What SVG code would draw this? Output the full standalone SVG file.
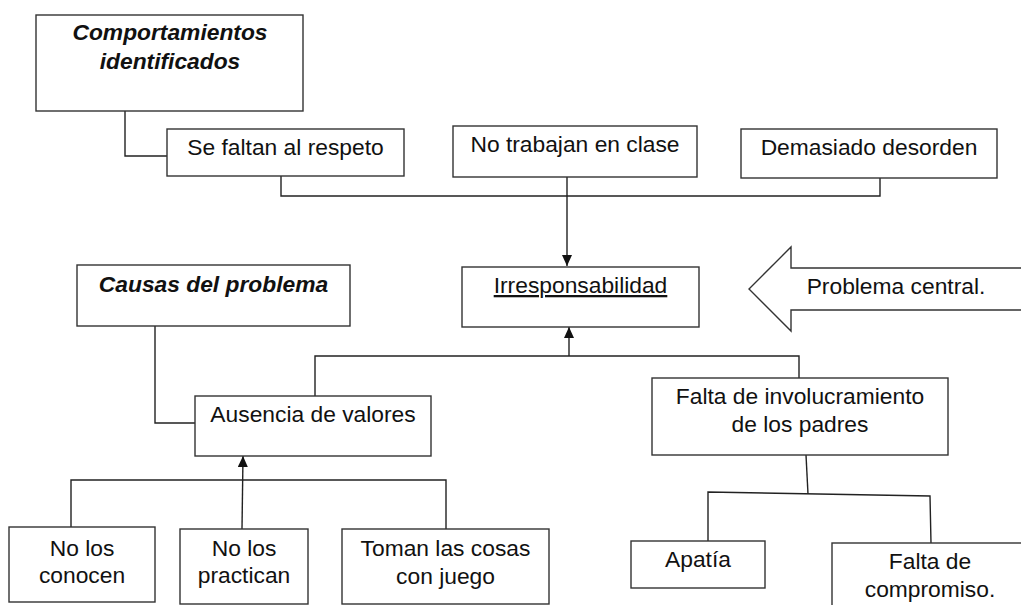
<svg xmlns="http://www.w3.org/2000/svg" width="1021" height="605" viewBox="0 0 1021 605">
<style>
.box{fill:#fff;stroke:#333;stroke-width:1.4}
.t{font-family:"Liberation Sans",Arial,sans-serif;font-size:22.8px;fill:#111;text-anchor:middle}
.bi{font-weight:bold;font-style:italic}
.c{fill:none;stroke:#222;stroke-width:1.4}
</style>
<defs>
<marker id="ah" markerUnits="userSpaceOnUse" markerWidth="11" markerHeight="10" refX="11" refY="5" orient="auto">
<path d="M0,0 L11,5 L0,10 z" fill="#111"/>
</marker>
</defs>
<rect width="1021" height="605" fill="#fff"/>
<g id="connectors">
<polyline class="c" points="125,111 125,156 167,156"/>
<polyline class="c" points="281,176 281,196 880,196 880,178"/>
<line class="c" x1="567" y1="177" x2="567" y2="266" marker-end="url(#ah)"/>
<polyline class="c" points="315,396 315,356 799,356 799,378"/>
<line class="c" x1="569" y1="356" x2="569" y2="327" marker-end="url(#ah)"/>
<polyline class="c" points="155,326 155,423 195,423"/>
<polyline class="c" points="71,527 71,480 446,480 446,529"/>
<line class="c" x1="242" y1="529" x2="243" y2="456" marker-end="url(#ah)"/>
<line class="c" x1="806" y1="455" x2="808" y2="494"/>
<polyline class="c" points="708,541 708,492 930,496 931,543"/>
</g>
<g id="n-comportamientos">
<rect class="box" x="36" y="15" width="267" height="96"/>
<text class="t bi" x="170" y="40">Comportamientos</text>
<text class="t bi" x="170" y="69">identificados</text>
</g>
<g id="n-respeto">
<rect class="box" x="167" y="129" width="237" height="47"/>
<text class="t" x="285.5" y="155">Se faltan al respeto</text>
</g>
<g id="n-trabajan">
<rect class="box" x="453" y="126" width="244" height="51"/>
<text class="t" x="575" y="152">No trabajan en clase</text>
</g>
<g id="n-desorden">
<rect class="box" x="741" y="129" width="256" height="49"/>
<text class="t" x="869" y="155">Demasiado desorden</text>
</g>
<g id="n-irresponsabilidad">
<rect class="box" x="462" y="267" width="237" height="60"/>
<text class="t" x="580.5" y="293" text-decoration="underline">Irresponsabilidad</text>
</g>
<g id="n-problema-central">
<polygon class="box" points="749,289 791,247 791,268 1030,268 1030,310 791,310 791,331"/>
<text class="t" x="896" y="294">Problema central.</text>
</g>
<g id="n-causas">
<rect class="box" x="77" y="265" width="273" height="61"/>
<text class="t bi" x="213.5" y="292">Causas del problema</text>
</g>
<g id="n-ausencia">
<rect class="box" x="195" y="396" width="236" height="60"/>
<text class="t" x="313" y="422">Ausencia de valores</text>
</g>
<g id="n-involucramiento">
<rect class="box" x="652" y="378" width="296" height="77"/>
<text class="t" x="800" y="404">Falta de involucramiento</text>
<text class="t" x="800" y="432">de los padres</text>
</g>
<g id="n-conocen">
<rect class="box" x="9" y="527" width="146" height="75"/>
<text class="t" x="82" y="556">No los</text>
<text class="t" x="82" y="583">conocen</text>
</g>
<g id="n-practican">
<rect class="box" x="180" y="529" width="128" height="75"/>
<text class="t" x="244" y="556">No los</text>
<text class="t" x="244" y="583">practican</text>
</g>
<g id="n-juego">
<rect class="box" x="342" y="529" width="207" height="75"/>
<text class="t" x="445.5" y="556">Toman las cosas</text>
<text class="t" x="445.5" y="584">con juego</text>
</g>
<g id="n-apatia">
<rect class="box" x="631" y="541" width="134" height="47"/>
<text class="t" x="698" y="567">Apatía</text>
</g>
<g id="n-compromiso">
<rect class="box" x="832" y="543" width="196" height="70"/>
<text class="t" x="930" y="569">Falta de</text>
<text class="t" x="930" y="597">compromiso.</text>
</g>
</svg>
